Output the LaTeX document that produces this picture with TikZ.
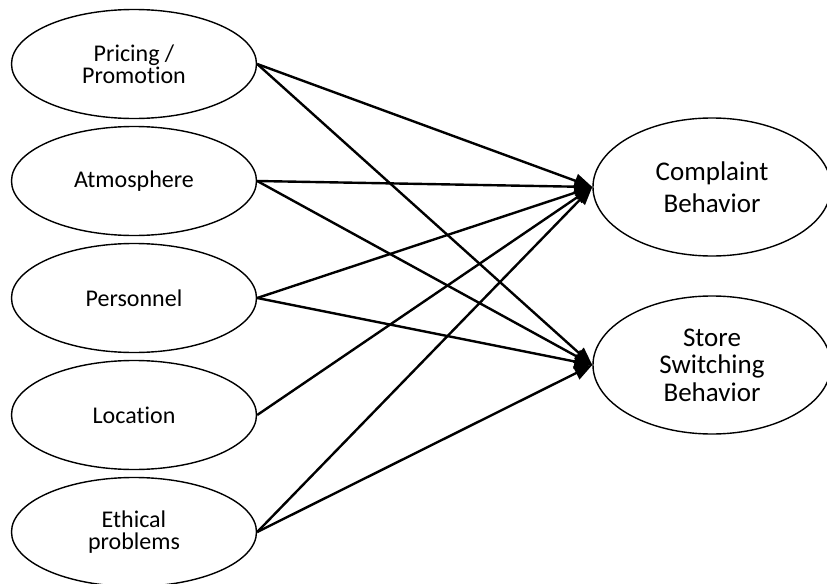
\documentclass[tikz,border=0pt]{standalone}
\usepackage{fontspec}
\setmainfont{Carlito}[Ligatures=NoCommon]
\usetikzlibrary{shapes.geometric,arrows.meta}
\begin{document}
\begin{tikzpicture}[x=0.5pt, y=-0.5pt, ellipse, align=center, line width=0.7pt,
    minimum width=122.5pt, minimum height=54.5pt, node distance=58.5pt,
    lefttext/.style={font=\fontsize{12}{10.8}\selectfont},
    righttext/.style={font=\fontsize{13.5}{13.8}\selectfont, minimum width=119pt, minimum height=69pt}]
    \useasboundingbox (0,0) rectangle (827,584);
    \node[draw, lefttext] (pricing) at (134,64) {Pricing /\\Promotion};
    \node[draw, lefttext] (atmos) [below of = pricing] {Atmosphere};
    \node[draw, lefttext] (staff) [below of = atmos] {Personnel};
    \node[draw, lefttext] (loc) [below of = staff] {Location};
    \node[draw, lefttext] (ethic) [below of = loc] {Ethical\\problems};

    \node[draw, righttext, font=\fontsize{13.5}{16}\selectfont] (complaint) at (712,187) {Complaint\\Behavior};
    \node[draw, righttext] (switch) [below of = complaint, node distance=89pt] {Store\\Switching\\Behavior};

    \path[-{Triangle[length=9pt,width=7pt]}, line width=1.2pt]
      (pricing.east) edge (complaint.west)
      (pricing.east) edge (switch.west)
      (atmos.east) edge (complaint.west)
      (atmos.east) edge (switch.west)
      (staff.east) edge (complaint.west)
      (staff.east) edge (switch.west)
      (loc.east) edge (complaint.west)
      (ethic.east) edge (complaint.west)
      (ethic.east) edge (switch.west);
  \end{tikzpicture}
\end{document}
